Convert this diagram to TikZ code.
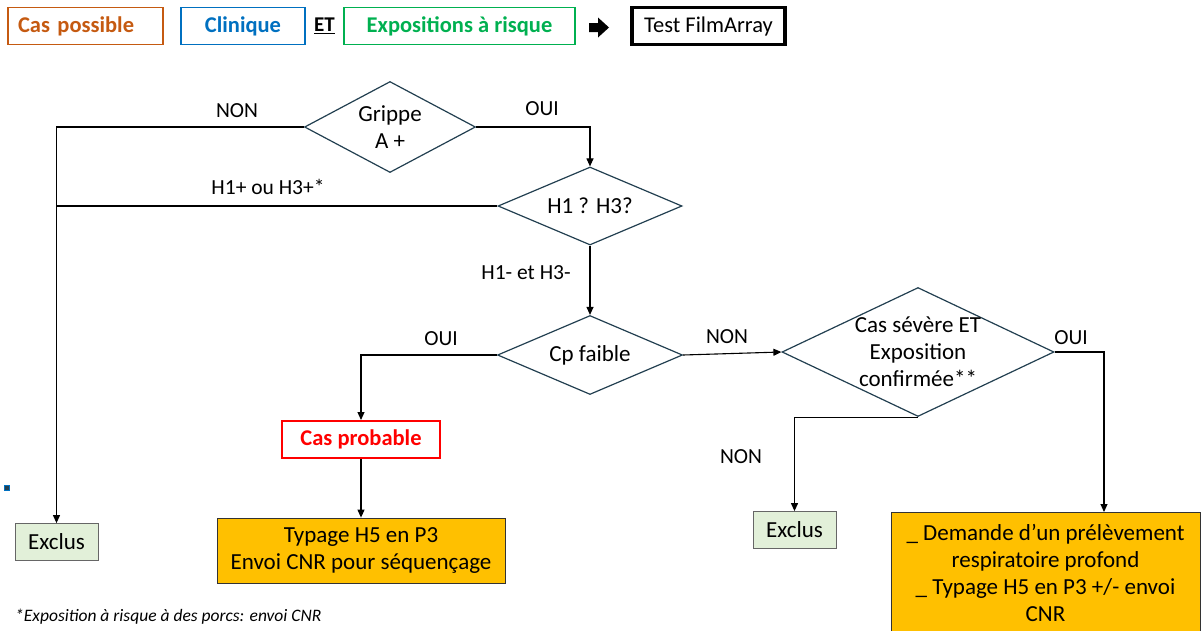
\documentclass[tikz,border=0pt]{standalone}
\usepackage{fontspec}
\setmainfont{Carlito}
\usetikzlibrary{shapes.geometric,arrows.meta}
\definecolor{orangecas}{HTML}{C55A11}
\definecolor{bleuclin}{HTML}{0070C0}
\definecolor{vertexpo}{HTML}{00B050}
\definecolor{ardoise}{HTML}{223F50}
\definecolor{jaune}{HTML}{FFC000}
\definecolor{vertpale}{HTML}{E2F0D9}
\definecolor{rougeprob}{HTML}{FF0000}
\begin{document}
\begin{tikzpicture}[x=1pt,y=-1pt,
    every node/.style={inner sep=0pt, font=\fontsize{23}{27}\selectfont},
    titre/.style={draw, line width=1.8pt, minimum width=#1, minimum height=37pt,
      font=\fontsize{22.5}{26}\selectfont\bfseries},
    decision/.style={draw=ardoise, line width=1.2pt, diamond, aspect=2},
    exclus/.style={draw=gray!80!black, fill=vertpale, line width=0.8pt,
      minimum width=83pt, minimum height=37pt},
    action/.style={draw=black!80, fill=jaune, line width=0.8pt, align=center},
    etiq/.style={font=\fontsize{21.5}{25}\selectfont},
    fleche/.style={line width=1.1pt, -{Triangle[length=8pt,width=7pt]}},
    trait/.style={line width=1.1pt}]
  \useasboundingbox (0,0) rectangle (1203,630);

  % bandeau du haut
  \node[titre=155pt, draw=orangecas, text=orangecas, text width=135pt,
    inner xsep=10pt, align=left] (poss) at (85.5,26) {Cas possible};
  \node[titre=124pt, draw=bleuclin, text=bleuclin] (clin) at (243,26) {Clinique};
  \node[font=\fontsize{21}{24}\selectfont\bfseries] (et) at (324.5,26) {\underline{ET}};
  \node[titre=231pt, draw=vertexpo, text=vertexpo] (expo) at (459.5,26) {Expositions à risque};
  \fill (589,23) -- (598,23) -- (598,17.5) -- (609,27.5) -- (598,37.5) -- (598,32) -- (589,32) -- cycle;
  \node[titre=153pt, draw=black, line width=3.2pt,
    font=\fontsize{22.5}{26}\selectfont] (test) at (708.5,26) {Test FilmArray};

  % decisions
  \node[decision, minimum width=171pt, minimum height=91pt,
    label={[align=center]center:Grippe\\A +}] (grip) at (390,127) {};
  \node[decision, minimum width=184pt, minimum height=78pt,
    label={center:H1 ? H3?}] (h13) at (590,206) {};
  \node[decision, minimum width=185pt, minimum height=79pt,
    label={center:Cp faible}] (cpf) at (590,355) {};
  \node[decision, minimum width=272pt, minimum height=129pt,
    label={[align=center]center:Cas sévère ET\\Exposition\\confirmée**}] (sev) at (918,352) {};

  % issues
  \node[exclus] (exclg) at (56.5,542) {Exclus};
  \node[exclus] (excld) at (794.5,530) {Exclus};
  \node[draw=rougeprob, line width=2pt, text=rougeprob, minimum width=158pt,
    minimum height=37pt, font=\fontsize{22.5}{26}\selectfont\bfseries] (prob) at (361,439.5) {Cas probable};
  \node[action, minimum width=288pt, minimum height=65pt] (typ) at (361,550.5)
    {Typage H5 en P3\\Envoi CNR pour séquençage};
  \node[action, minimum width=309pt, minimum height=122pt] (dem) at (1045.5,573)
    {\_ Demande d’un prélèvement\\respiratoire profond\\\_ Typage H5 en P3 +/- envoi\\CNR};
  \coordinate (demin) at (1104,512);

  % liaisons
  \draw[fleche] (grip.west) -| (exclg.north);
  \draw[fleche] (grip.east) -| (h13.north);
  \draw[trait] (h13.west) -- (h13.west -| exclg.north);
  \draw[fleche] (h13.south) -- (cpf.north);
  \draw[fleche] (cpf.west) -| (prob.north);
  \draw[fleche] (cpf.east) -- (sev.west);
  \draw[fleche] (sev.south) -| (excld.north);
  \draw[fleche] (sev.east) -| (demin);
  \draw[fleche] (prob.south) -- (typ.north);

  % etiquettes
  \node[etiq] (nong) at (237,111) {NON};
  \node[etiq] (ouig) at (542,109) {OUI};
  \node[etiq] (hplus) at (268,187) {H1+ ou H3+*};
  \node[etiq] (hmoins) at (526,273) {H1- et H3-};
  \node[etiq] (ouicp) at (441,339) {OUI};
  \node[etiq] (noncp) at (727,337) {NON};
  \node[etiq] (nonsev) at (741,457) {NON};
  \node[etiq] (ouisev) at (1071,338) {OUI};

  \fill[ardoise, draw=bleuclin, line width=0.5pt] (4,485.5) rectangle (9,490.5);
  \node[anchor=west, font=\fontsize{17.5}{20}\selectfont\itshape] (note) at (15,617)
    {*Exposition à risque à des porcs: envoi CNR};
\end{tikzpicture}
\end{document}
